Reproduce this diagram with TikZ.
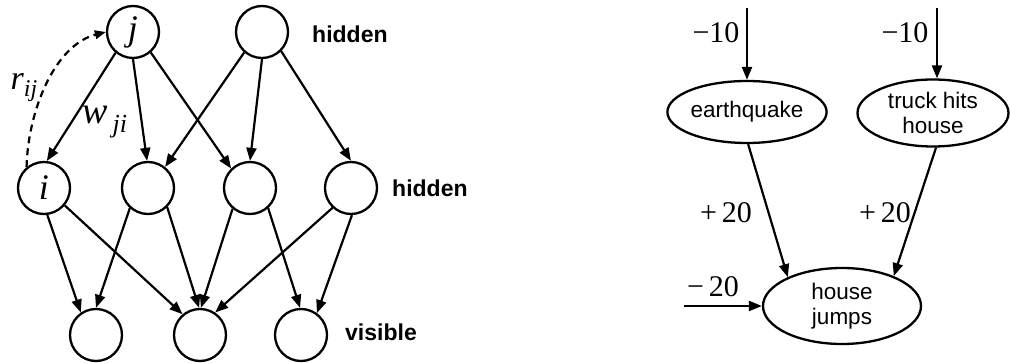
\documentclass[tikz,border=0pt]{standalone}
\usepackage{fontspec}
\setmainfont{Liberation Serif}
\setsansfont{Liberation Sans}
\usetikzlibrary{arrows.meta,shapes.geometric}
\begin{document}
\begin{tikzpicture}[x=1pt,y=-1pt,
  neuron/.style={circle, draw, line width=2.3pt, minimum size=52pt, inner sep=0pt,
    font=\fontsize{36}{36}\selectfont\itshape},
  arr/.style={-{Triangle[length=13pt,width=10pt]}, line width=2.2pt},
  lay/.style={font=\fontsize{23}{26}\selectfont\sffamily\bfseries, anchor=west, inner sep=0pt},
  ev/.style={ellipse, draw, line width=2.3pt, inner sep=0pt, align=center,
    font=\fontsize{22.5}{25}\selectfont\sffamily},
  num/.style={font=\fontsize{30}{32}\selectfont, inner sep=0pt},
  lbl/.style={inner sep=0pt}
]
\useasboundingbox (0,0) rectangle (1010,363);

% ---- left network ----
\node[neuron] (j)  at (133,32) {j};
\node[neuron] (t2) at (262,32) {};
\node[neuron] (i)  at (44,188) {i};
\node[neuron] (m2) at (148,188) {};
\node[neuron] (m3) at (250,188) {};
\node[neuron] (m4) at (351,188) {};
\node[neuron] (b1) at (96,335) {};
\node[neuron] (b2) at (200,335) {};
\node[neuron] (b3) at (301,335) {};

\node[lay] (h1) at (312,34) {hidden};
\node[lay] (h2) at (392,188) {hidden};
\node[lay] (v1) at (345,332) {visible};

\draw[arr] (j.230) -- (i.84);
\draw[arr] (j.-90) -- (m2.92);
\draw[arr] (j.-49) -- (m3.134);
\draw[arr] (t2.229) -- (m2.51);
\draw[arr] (t2.-90) -- (m3.90);
\draw[arr] (t2.-45) -- (m4.90);

\draw[arr] (i.-83) -- (b1.124);
\draw[arr] (i.-40) -- (b2.130);
\draw[arr] (m2.228) -- (b1.90);
\draw[arr] (m2.-45) -- (b2.92);
\draw[arr] (m3.230) -- (b2.88);
\draw[arr] (m3.-48) -- (b3.92);
\draw[arr] (m4.227) -- (b2.56);
\draw[arr] (m4.-88) -- (b3.54);

\draw[-{Triangle[length=11pt,width=8.5pt]}, line width=2.2pt, dash pattern=on 7pt off 5pt]
  (i.130) .. controls (28,110) and (55,45) .. (j.west);

\node[lbl, font=\fontsize{34}{34}\selectfont\itshape] (r) at (24,88)
  {r\raisebox{-7pt}{\fontsize{24}{24}\selectfont ij}};
\node[lbl, font=\fontsize{38}{38}\selectfont\itshape] (w) at (105,122)
  {w\raisebox{-9pt}{\fontsize{26}{26}\selectfont\,ji}};

% ---- right network ----
\node[ev, minimum width=159pt, minimum height=62pt] (eq) at (747,112) {earthquake};
\node[ev, minimum width=151pt, minimum height=67pt] (tr) at (933,113) {truck hits\\house};
\node[ev, minimum width=158pt, minimum height=76pt] (hj) at (842,306) {house\\jumps};

\coordinate (in1) at (747,8);
\coordinate (in2) at (937,8);
\coordinate (in3) at (684,306);

\draw[arr] (in1) -- (eq.north);
\draw[arr] (in2) -- (in2 |- tr.north);
\draw[arr] (eq.-88) -- (hj.152);
\draw[arr] (tr.-85) -- (hj.30);
\draw[arr] (in3) -- (hj.west);

\node[num] (n1) at (716,33) {−10};
\node[num] (n2) at (905,33) {−10};
\node[num] (n3) at (726,213) {+\,20};
\node[num] (n4) at (885,213) {+\,20};
\node[num] (n5) at (713,287) {−\,20};
\end{tikzpicture}
\end{document}
